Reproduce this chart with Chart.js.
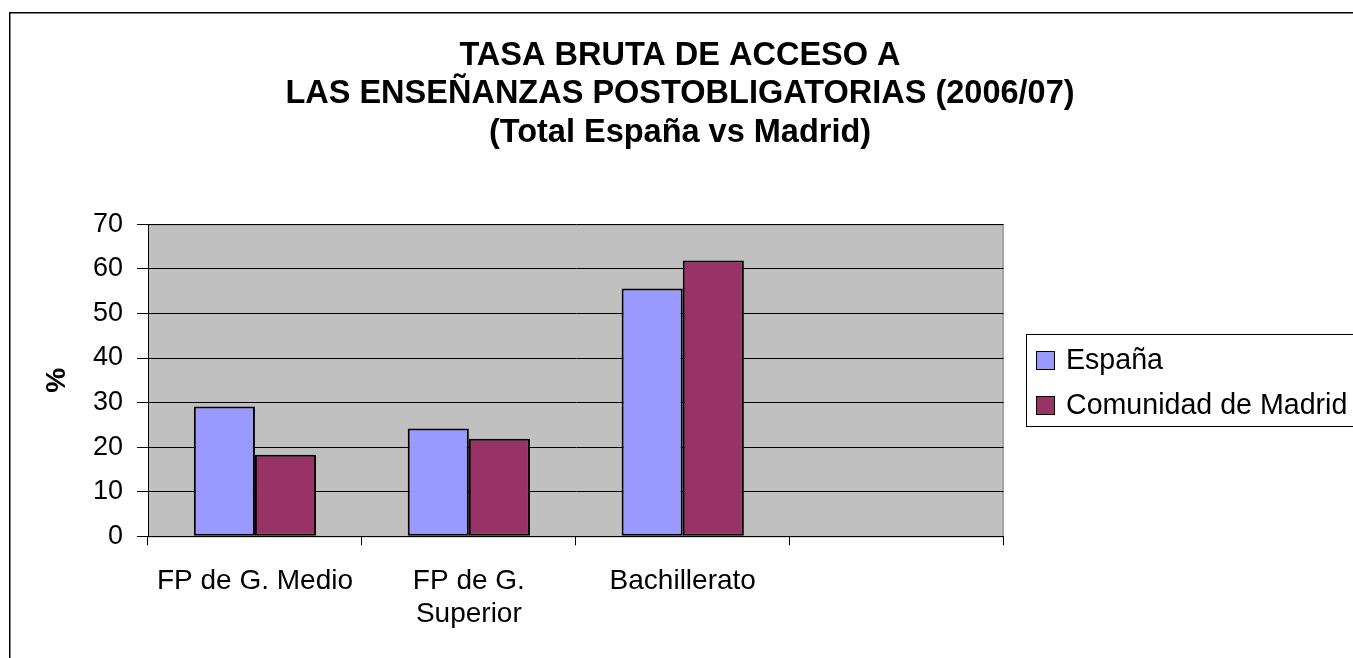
<!DOCTYPE html>
<html>
<head>
<meta charset="utf-8">
<script src="https://cdn.jsdelivr.net/npm/chart.js@4/dist/chart.umd.min.js"></script>
<style>
  body { margin: 0; background: #fff; }
  canvas { display: block; }
</style>
</head>
<body>
<canvas id="chart" width="1353" height="658"></canvas>
<script>
// ---------- Data ----------
const categories = ['FP de G. Medio', ['FP de G.', 'Superior'], 'Bachillerato', ''];
const seriesNames = ['España', 'Comunidad de Madrid'];
const espana = [29.1, 24.2, 55.6, null];
const madrid = [18.3, 21.9, 61.9, null];
const yMin = 0;
const yMax = 70;
const yStep = 10;
const titleLines = ['TASA BRUTA DE ACCESO A', 'LAS ENSEÑANZAS POSTOBLIGATORIAS (2006/07)', '(Total España vs Madrid)'];
const yTitle = '%';

const FONT = 'Arial, "Liberation Sans", sans-serif';
const colors = ['#9999FF', '#993366'];

// plot background, outer frame, title and the boxed legend
const framePlugin = {
  id: 'frame',
  beforeDraw(chart) {
    const { ctx, chartArea: a } = chart;
    ctx.save();
    ctx.fillStyle = '#C0C0C0';
    ctx.fillRect(a.left, a.top, a.right - a.left, a.bottom - a.top);
    ctx.strokeStyle = '#808080';
    ctx.lineWidth = 1;
    ctx.strokeRect(a.left + 0.5, a.top + 0.5, a.right - a.left - 1, a.bottom - a.top);
    ctx.restore();
  },
  afterDraw(chart) {
    const { ctx } = chart;
    ctx.save();
    // outer chart border
    ctx.strokeStyle = '#000';
    ctx.lineWidth = 1.5;
    ctx.strokeRect(9.75, 12.75, 1400, 700);

    // title, centred on the whole chart
    ctx.fillStyle = '#000';
    ctx.font = 'bold 32.5px ' + FONT;
    ctx.textAlign = 'center';
    ctx.textBaseline = 'middle';
    titleLines.forEach((line, i) => ctx.fillText(line, 680, 56 + i * 38.5));

    // legend box
    ctx.lineWidth = 1;
    ctx.strokeRect(1026.5, 334.5, 400, 92);
    const rows = [360.5, 405.5];
    chart.data.datasets.forEach((ds, i) => {
      ctx.fillStyle = ds.backgroundColor;
      ctx.fillRect(1036.5, rows[i] - 9, 18, 18);
      ctx.strokeStyle = '#000';
      ctx.strokeRect(1036.5, rows[i] - 9, 18, 18);
      ctx.fillStyle = '#000';
      ctx.font = '28.6px ' + FONT;
      ctx.textBaseline = 'middle';
      ctx.textAlign = 'left';
      ctx.fillText(ds.label, 1066, rows[i] + 1);
    });
    ctx.restore();
  }
};

new Chart(document.getElementById('chart'), {
  type: 'bar',
  data: {
    labels: categories,
    datasets: [
      { label: seriesNames[0], data: espana, backgroundColor: colors[0] },
      { label: seriesNames[1], data: madrid, backgroundColor: colors[1] }
    ]
  },
  options: {
    responsive: false,
    animation: false,
    events: [],
    layout: { padding: { top: 224.3, left: 0, right: 349.4, bottom: 0 } },
    datasets: {
      bar: {
        categoryPercentage: 2 / 3.5,
        barPercentage: 1,
        borderColor: '#000',
        borderWidth: 2,
        borderSkipped: false
      }
    },
    plugins: {
      legend: { display: false },
      tooltip: { enabled: false },
      title: { display: false }
    },
    scales: {
      x: {
        grid: { drawOnChartArea: false, drawTicks: true, tickLength: 9, color: '#000', offset: true },
        border: { color: '#000', width: 1 },
        ticks: {
          color: '#000',
          font: { family: FONT, size: 28, lineHeight: 1.2 },
          padding: 19,
          maxRotation: 0,
          autoSkip: false
        },
        afterFit(scale) { scale.height = 121.7; }
      },
      y: {
        min: yMin,
        max: yMax,
        ticks: {
          stepSize: yStep,
          color: '#000',
          font: { family: FONT, size: 27 },
          padding: 14
        },
        grid: { color: '#000', tickLength: 11 },
        border: { color: '#000', width: 1 },
        title: {
          display: true,
          text: yTitle,
          color: '#000',
          font: { family: FONT, size: 28, weight: 'bold', lineHeight: 1.2 },
          padding: { top: 40, bottom: 0 }
        },
        afterFit(scale) { scale.width = 148; }
      }
    }
  },
  plugins: [framePlugin]
});
</script>
</body>
</html>
